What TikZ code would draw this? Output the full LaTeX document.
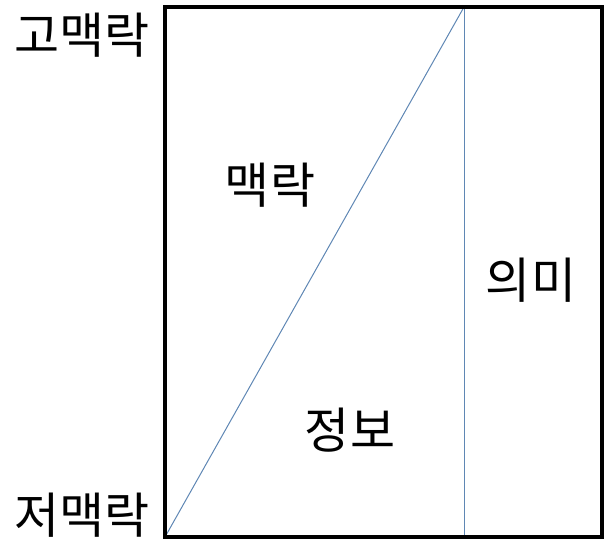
\documentclass[tikz,border=0pt]{standalone}
\usepackage{fontspec}
\newfontfamily\kr{Noto Sans CJK KR}
\definecolor{lineblue}{RGB}{95,135,180}
\begin{document}
\begin{tikzpicture}[x=1pt,y=-1pt,
  lbl/.style={font=\kr\fontsize{49}{52}\selectfont, inner sep=0pt, anchor=center},
  frame/.style={draw=black, line width=4pt},
  thin/.style={draw=lineblue, line width=1pt}]
\useasboundingbox (0,0) rectangle (607,542);
\coordinate (bl) at (165,537);
\coordinate (tr) at (602,7);
\coordinate (vt) at (464,7);
\coordinate (vb) at (464,537);
\draw[thin] (bl) -- (vt);
\draw[thin] (vt) -- (vb);
\draw[frame] (bl) rectangle (tr);
\node[lbl] (hi) at (82,35) {고맥락};
\node[lbl] (lo) at (82,515) {저맥락};
\node[lbl] (ctx) at (270,185) {맥락};
\node[lbl] (info) at (350,430) {정보};
\node[lbl] (mean) at (531,280) {의미};
\end{tikzpicture}
\end{document}
